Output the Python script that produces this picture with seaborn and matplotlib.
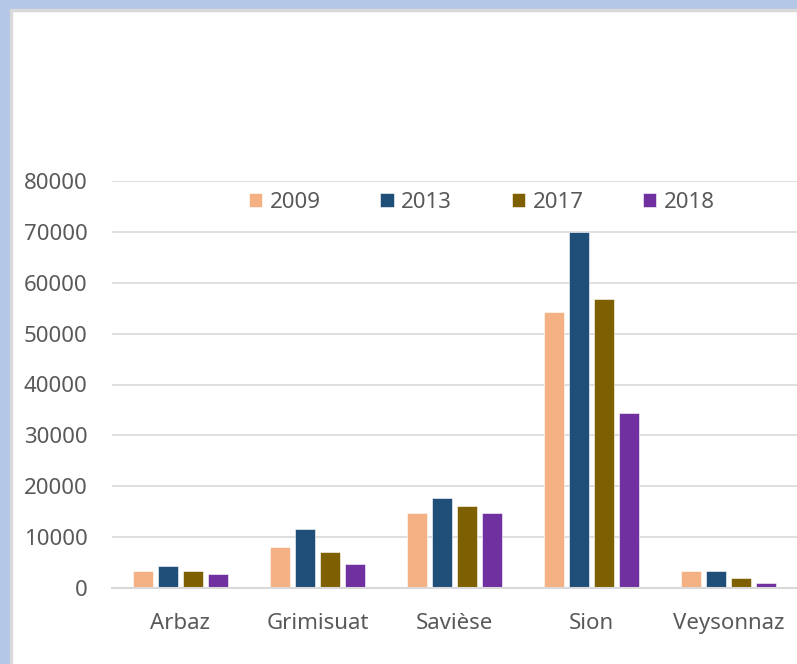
import matplotlib
matplotlib.use("Agg")
import matplotlib.pyplot as plt
import matplotlib.patches as mpatches
import pandas as pd
import seaborn as sns

communes = ["Arbaz", "Grimisuat", "Savièse", "Sion", "Veysonnaz"]
years = ["2009", "2013", "2017", "2018"]
v2009 = [3400, 8000, 14800, 54200, 3300]
v2013 = [4300, 11500, 17700, 69900, 3400]
v2017 = [3300, 7000, 16100, 56800, 1900]
v2018 = [2700, 4700, 14700, 34300, 900]
colors = ["#F4B183", "#1F4E79", "#7F6000", "#7030A0"]
yticks = [0, 10000, 20000, 30000, 40000, 50000, 60000, 70000, 80000]

df = pd.DataFrame({
    "commune": communes * 4,
    "year": [y for y in years for _ in communes],
    "value": v2009 + v2013 + v2017 + v2018,
})

sns.set_style("white")
plt.rcParams["font.family"] = ["Noto Sans", "DejaVu Sans"]
txt = "#595959"

fig = plt.figure(figsize=(7.97, 6.64), dpi=100)
# blue frame on the left and top, with a thin grey inner line
fig.patches.append(mpatches.Rectangle((0, 0), 10 / 797, 1, transform=fig.transFigure,
                                      color="#B4C7E7", zorder=0))
fig.patches.append(mpatches.Rectangle((0, 1 - 9 / 664), 1, 9 / 664, transform=fig.transFigure,
                                      color="#B4C7E7", zorder=0))
fig.patches.append(mpatches.Rectangle((10 / 797, 0), 1.5 / 797, 1 - 9 / 664,
                                      transform=fig.transFigure, color="#D9D9D9", zorder=0))
fig.patches.append(mpatches.Rectangle((10 / 797, 1 - 10.5 / 664), 1, 1.5 / 664,
                                      transform=fig.transFigure, color="#D9D9D9", zorder=0))

ax = fig.add_axes([112 / 797, 76 / 664, 1 - 112 / 797, (588 - 181) / 664])
sns.barplot(data=df, x="commune", y="value", hue="year", palette=colors,
            width=0.73, gap=0.2, ax=ax, edgecolor="white", linewidth=0.4,
            saturation=1, errorbar=None, zorder=3)

ax.set_ylim(0, 80000)
ax.set_xlim(-0.5, 4.5)
ax.set_yticks(yticks)
ax.set_yticklabels([str(t) for t in yticks])
ax.yaxis.grid(True, color="#D9D9D9", linewidth=1.2, zorder=0)
ax.set_axisbelow(True)
for s in ["left", "top", "right"]:
    ax.spines[s].set_visible(False)
ax.spines["bottom"].set_color("#D9D9D9")
ax.spines["bottom"].set_linewidth(1.5)
ax.spines["bottom"].set_zorder(4)
ax.tick_params(axis="both", length=0, labelsize=16, colors=txt)
ax.tick_params(axis="y", pad=17.5)
ax.tick_params(axis="x", pad=18)
ax.set_xlabel("")
ax.set_ylabel("")

handles, labels = ax.get_legend_handles_labels()
ax.legend(handles, labels, loc="upper center", bbox_to_anchor=(0.54, 1.0), ncol=4,
          frameon=False, fontsize=16, labelcolor=txt, handlelength=0.6,
          handleheight=0.6, handletextpad=0.35, columnspacing=2.67, borderaxespad=0.1)

fig.savefig("out.png", dpi=100, facecolor="white")
